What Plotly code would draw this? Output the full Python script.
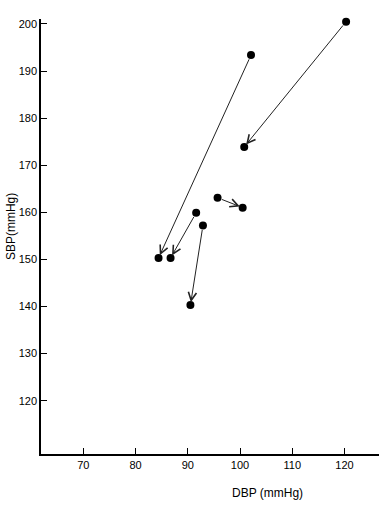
import plotly.graph_objects as go

# Data (DBP, SBP in mmHg)
start_dbp = [102.1, 91.6, 92.9, 95.7, 120.3]
start_sbp = [193.4, 159.9, 157.2, 163.1, 200.5]
end_dbp = [84.4, 86.7, 90.5, 100.5, 100.8]
end_sbp = [150.3, 150.3, 140.3, 161.0, 173.9]

x_ticks = [70, 80, 90, 100, 110, 120]
y_ticks = [120, 130, 140, 150, 160, 170, 180, 190, 200]

FONT = "Liberation Sans, sans-serif"

fig = go.Figure()
fig.add_trace(go.Scatter(
    x=start_dbp + end_dbp,
    y=start_sbp + end_sbp,
    mode="markers",
    marker=dict(color="black", size=8),
    cliponaxis=False,
    showlegend=False,
    hoverinfo="skip",
))

for sx, sy, ex, ey in zip(start_dbp, start_sbp, end_dbp, end_sbp):
    fig.add_annotation(
        x=ex, y=ey, ax=sx, ay=sy,
        xref="x", yref="y", axref="x", ayref="y",
        text="", showarrow=True,
        arrowhead=5, arrowsize=1.6, arrowwidth=1,
        arrowcolor="#222222", standoff=3, startstandoff=3,
    )

fig.add_annotation(
    text="DBP (mmHg)", xref="paper", yref="paper",
    x=0.669, y=-0.0897, xanchor="center", yanchor="middle",
    showarrow=False, font=dict(family=FONT, size=12, color="black"),
)
fig.add_annotation(
    text="SBP(mmHg)", xref="paper", yref="paper",
    x=-0.0888, y=0.524, xanchor="center", yanchor="middle",
    textangle=-90, showarrow=False,
    font=dict(family=FONT, size=12, color="black"),
)

fig.update_layout(
    template="none",
    width=379, height=509,
    margin=dict(l=41, r=0, t=19, b=55),
    paper_bgcolor="white", plot_bgcolor="white",
    font=dict(family=FONT, size=12, color="black"),
    xaxis=dict(
        range=[61.9, 126.6], tickvals=x_ticks,
        showline=True, linecolor="black", linewidth=1.5,
        ticks="inside", ticklen=6, tickcolor="black", tickwidth=1,
        showgrid=False, zeroline=False,
        tickfont=dict(family=FONT, size=11, color="black"),
    ),
    yaxis=dict(
        range=[108.68, 201.06], tickvals=y_ticks,
        showline=True, linecolor="black", linewidth=1.5,
        ticks="inside", ticklen=6, tickcolor="black", tickwidth=1,
        showgrid=False, zeroline=False, ticklabelstandoff=0,
        tickfont=dict(family=FONT, size=11, color="black"),
    ),
)

fig.write_html("out.html")
